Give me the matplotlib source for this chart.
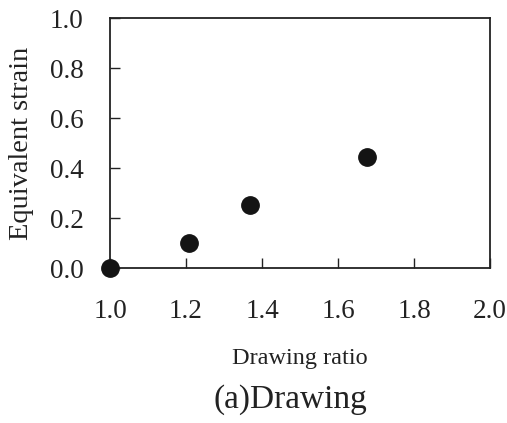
import matplotlib
matplotlib.use("Agg")
import matplotlib.pyplot as plt

# values
drawing_ratio = [1.0, 1.208, 1.368, 1.677]
equiv_strain = [0.0, 0.102, 0.254, 0.445]
x_ticks = [1.0, 1.2, 1.4, 1.6, 1.8, 2.0]
y_ticks = [0.0, 0.2, 0.4, 0.6, 0.8, 1.0]

plt.rcParams['font.family'] = ['Liberation Serif', 'DejaVu Serif']

W, H = 507, 423
fig = plt.figure(figsize=(W / 100, H / 100), dpi=100)
# axes box in pixels: left 110, right 490, top 18, bottom 268
ax = fig.add_axes([110 / W, 1 - 268 / H, 380 / W, 250 / H])

ax.plot(drawing_ratio, equiv_strain, 'o', color='#141414', markersize=12.5,
        clip_on=False, zorder=3)

ax.set_xlim(1.0, 2.0)
ax.set_ylim(0.0, 1.0)
ax.set_xticks(x_ticks)
ax.set_yticks(y_ticks)
ax.set_xticklabels([f"{v:.1f}" for v in x_ticks])
ax.set_yticklabels([f"{v:.1f}" for v in y_ticks])
ax.tick_params(direction='in', length=7, width=1, labelsize=19.5, colors='#222222')
ax.tick_params(axis='x', pad=22)
ax.tick_params(axis='y', pad=19)
for s in ax.spines.values():
    s.set_linewidth(1.3)
    s.set_color('#222222')

ax.set_ylabel('Equivalent strain', fontsize=20.5, color='#222222')
ax.yaxis.set_label_coords((34 - 110) / 380, 0.5)
fig.text(300 / W, 1 - 358 / H, 'Drawing ratio', fontsize=17.5, color='#222222',
         ha='center', va='center')
fig.text(290 / W, 1 - 400 / H, '(a)Drawing', fontsize=24, color='#222222',
         ha='center', va='center')

fig.savefig('out.png', dpi=100)
